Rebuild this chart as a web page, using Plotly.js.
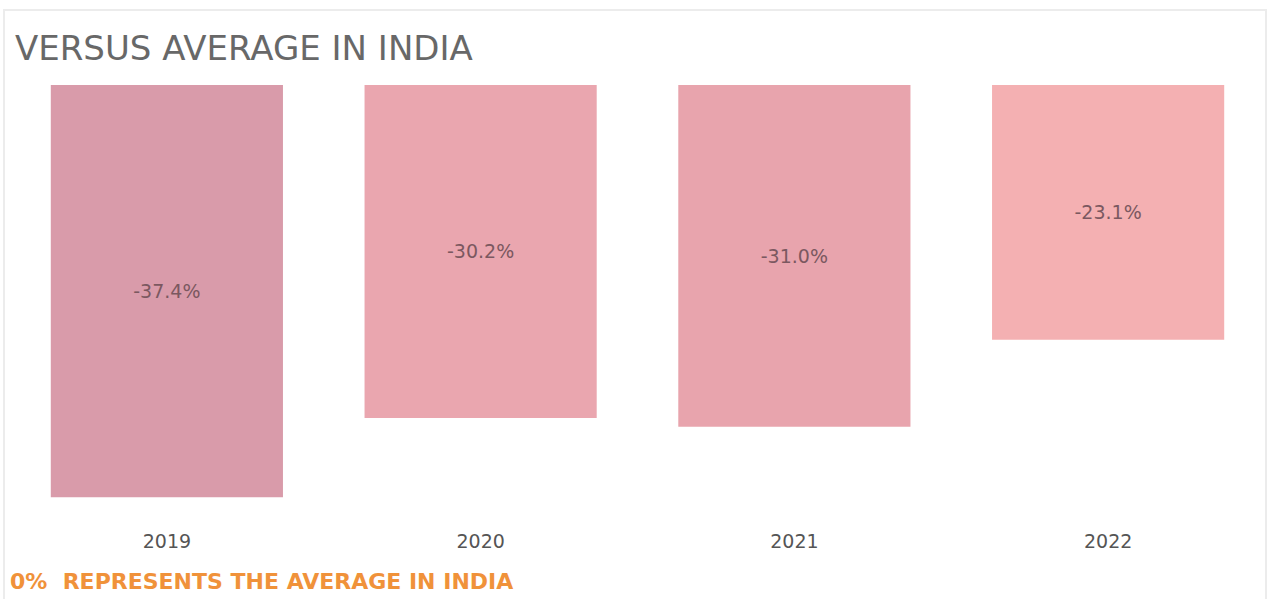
<!DOCTYPE html>
<html>
<head>
<meta charset="utf-8">
<script src="https://cdn.plot.ly/plotly-3.0.1.min.js"></script>
<style>
  html, body { margin: 0; padding: 0; background: #ffffff; }
  #chart { width: 1273px; height: 599px; }
  #frame { position: absolute; left: 3px; top: 9px; width: 1264px; height: 600px;
           border: 2px solid #ececec; box-sizing: border-box; pointer-events: none; }
</style>
</head>
<body>
<div id="chart"></div>
<div id="frame"></div>
<script>
const years = ['2019', '2020', '2021', '2022'];
const values = [-37.4, -30.2, -31.0, -23.1];
const labels = ['-37.4%', '-30.2%', '-31.0%', '-23.1%'];
const barColors = ['#d99baa', '#eaa6af', '#e8a4ad', '#f4b0b2'];

const trace = {
  type: 'bar',
  x: years,
  y: values,
  text: labels,
  textposition: 'inside',
  insidetextanchor: 'middle',
  textangle: 0,
  textfont: { family: 'DejaVu Sans', size: 19, color: '#7b5860' },
  marker: { color: barColors, line: { width: 0 } },
  width: 0.74,
  hoverinfo: 'none'
};

const layout = {
  width: 1273,
  height: 599,
  margin: { l: 10, r: 8, t: 85, b: 73 },
  paper_bgcolor: '#ffffff',
  plot_bgcolor: '#ffffff',
  showlegend: false,
  title: {
    text: 'VERSUS AVERAGE IN INDIA',
    font: { family: 'DejaVu Sans', size: 34, color: '#686868' },
    x: 5 / 1255, xanchor: 'left', xref: 'paper',
    y: 1 - 48 / 599, yanchor: 'middle', yref: 'container'
  },
  xaxis: {
    type: 'category',
    range: [-0.5, 3.5],
    showgrid: false, zeroline: false, showline: false,
    ticks: '', ticklen: 0, ticklabelstandoff: 2,
    tickfont: { family: 'DejaVu Sans', size: 19, color: '#555555' }
  },
  yaxis: {
    range: [-40, 0],
    showgrid: false, zeroline: false, showline: false,
    showticklabels: false, ticks: ''
  },
  annotations: [{
    text: '<b>0%  REPRESENTS THE AVERAGE IN INDIA</b>',
    xref: 'paper', yref: 'paper',
    x: -2 / 1255, xanchor: 'left',
    y: -55 / 441, yanchor: 'middle',
    showarrow: false,
    font: { family: 'DejaVu Sans', size: 22, color: '#f0923a' }
  }]
};

Plotly.newPlot('chart', [trace], layout, { displayModeBar: false, staticPlot: true });
</script>
</body>
</html>
